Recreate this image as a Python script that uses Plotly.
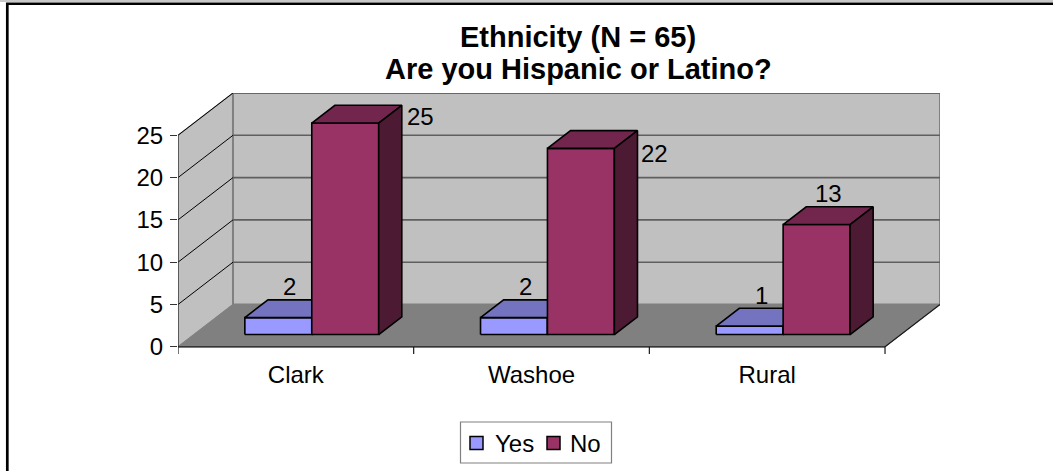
import plotly.graph_objects as go

# ---- data -------------------------------------------------------------
categories = ["Clark", "Washoe", "Rural"]
series_names = ["Yes", "No"]
yes_counts = [2, 2, 1]
no_counts = [25, 22, 13]
y_ticks = [0, 5, 10, 15, 20, 25]
title_lines = ["Ethnicity (N = 65)", "Are you Hispanic or Latino?"]

# ---- geometry / style ---------------------------------------------------
FIG_W, FIG_H = 1053, 471
M_L, M_R, M_T, M_B = 178, 113, 93, 117
DX, DY = 0.2333, 5.0          # depth of the chart box, in axis units
Y_MAX, Y_MIN = 30.0, -0.85
BAR_W = 0.284                 # bar width in category units
FRONT = 0.29                  # bar front plane, fraction of box depth
DEPTH = 0.42                  # bar depth, fraction of box depth
FONT = "Liberation Sans, Arial, sans-serif"

WALL = "#C0C0C0"
FLOOR = "#808080"
COLORS = {
    "Yes": {"front": "#9999FF", "top": "#7373BF", "side": "#5C5C99"},
    "No": {"front": "#993366", "top": "#73264D", "side": "#4D1A33"},
}

plot_w = FIG_W - M_L - M_R
plot_h = FIG_H - M_T - M_B


def paper(px, py):
    """Pixel position on the page -> paper coordinates."""
    return (px - M_L) / plot_w, (FIG_H - M_B - py) / plot_h


def polys(shapes):
    xs, ys = [], []
    for pts in shapes:
        for x, y in pts + [pts[0]]:
            xs.append(x)
            ys.append(y)
        xs.append(None)
        ys.append(None)
    return xs, ys


def lines(segs):
    xs, ys = [], []
    for (x0, y0), (x1, y1) in segs:
        xs += [x0, x1, None]
        ys += [y0, y1, None]
    return xs, ys


fig = go.Figure()


def add_poly(shapes, fill, line_color, line_width):
    xs, ys = polys(shapes)
    fig.add_trace(go.Scatter(x=xs, y=ys, mode="lines", fill="toself",
                             fillcolor=fill,
                             line=dict(color=line_color, width=line_width),
                             hoverinfo="skip", showlegend=False))


def add_lines(segs, color, width):
    xs, ys = lines(segs)
    fig.add_trace(go.Scatter(x=xs, y=ys, mode="lines",
                             line=dict(color=color, width=width),
                             hoverinfo="skip", showlegend=False))


n = len(categories)
top = y_ticks[-1]

# walls and floor
add_poly([[(0, 0), (0, top), (DX, top + DY), (DX, DY)]], WALL, "#8C8C8C", 1.2)
add_poly([[(DX, DY), (DX, top + DY), (n + DX, top + DY), (n + DX, DY)]],
         WALL, "#808080", 2)
add_poly([[(0, 0), (n, 0), (n + DX, DY), (DX, DY)]], FLOOR, FLOOR, 1)

# gridlines on the back wall and their continuation on the side wall
add_lines([((DX, v + DY), (n + DX, v + DY)) for v in y_ticks[1:]], "#5F5F5F", 1.6)
add_lines([((0, v), (DX, v + DY)) for v in y_ticks[1:]], "#000000", 1)

# axis lines and category ticks
add_lines([((0, 0), (0, top))], "#333333", 1.3)
add_lines([((0, 0), (n, 0)), ((n, 0), (n + DX, DY))], "#1A1A1A", 1.2)
add_lines([((k, 0), (k, Y_MIN)) for k in range(n + 1)], "#1A1A1A", 1.2)

# 3-D bars
fx, fy = FRONT * DX, FRONT * DY
bx, by = DEPTH * DX, DEPTH * DY
series = {"Yes": yes_counts, "No": no_counts}
annotations = []
outside_labels = {("No", 0): (3, -11), ("No", 1): (2, -23)}

for i in range(n):
    c = i + 0.5
    for s_idx, name in enumerate(series_names):
        v = series[name][i]
        x0 = c - BAR_W + s_idx * BAR_W + fx
        x1 = x0 + BAR_W
        col = COLORS[name]
        add_poly([[(x0, fy), (x1, fy), (x1, v + fy), (x0, v + fy)]],
                 col["front"], "#000000", 1.6)
        add_poly([[(x0, v + fy), (x1, v + fy), (x1 + bx, v + fy + by),
                   (x0 + bx, v + fy + by)]], col["top"], "#000000", 1.6)
        add_poly([[(x1, fy), (x1, v + fy), (x1 + bx, v + fy + by),
                   (x1 + bx, fy + by)]], col["side"], "#000000", 1.6)

        if (name, i) in outside_labels:
            xs, ys = outside_labels[(name, i)]
            annotations.append(dict(x=x1 + bx, y=v + fy + by, text=str(v),
                                    xref="x", yref="y", showarrow=False,
                                    xanchor="left", yanchor="middle",
                                    xshift=xs, yshift=ys,
                                    font=dict(family=FONT, size=24, color="black")))
        else:
            annotations.append(dict(x=(x0 + x1) / 2 + bx / 2, y=v + fy + by / 2,
                                    text=str(v), xref="x", yref="y",
                                    showarrow=False, xanchor="center",
                                    yanchor="middle", yshift=22,
                                    font=dict(family=FONT, size=24, color="black")))

# title
for text, py in zip(title_lines, [37.5, 68.5]):
    px_, py_ = paper(578, py)
    annotations.append(dict(x=px_, y=py_, xref="paper", yref="paper",
                            text=f"<b>{text}</b>", showarrow=False,
                            xanchor="center", yanchor="middle",
                            font=dict(family=FONT, size=29, color="black")))

# legend
shapes = []
lx0, ly0 = paper(460.5, 422)
lx1, ly1 = paper(611.5, 463)
shapes.append(dict(type="rect", xref="paper", yref="paper", x0=lx0, y0=ly0,
                   x1=lx1, y1=ly1, line=dict(color="#808080", width=1.2),
                   fillcolor="white", layer="above"))
for name, sx, tx in zip(series_names, [470, 547], [493, 568]):
    a0, b0 = paper(sx, 436.5)
    a1, b1 = paper(sx + 13, 449.5)
    shapes.append(dict(type="rect", xref="paper", yref="paper", x0=a0, y0=b0,
                       x1=a1, y1=b1, fillcolor=COLORS[name]["front"],
                       line=dict(color="black", width=1.5), layer="above"))
    tx_, ty_ = paper(tx, 443)
    annotations.append(dict(x=tx_, y=ty_, xref="paper", yref="paper",
                            text=name, showarrow=False, xanchor="left",
                            yanchor="middle",
                            font=dict(family=FONT, size=24, color="black")))

# chart frame
for (ax0, ay0), (ax1, ay1), color, width in [
        ((0, 1), (FIG_W, 1), "#C8C8C8", 2),
        ((6, 3.8), (FIG_W + 5, 3.8), "#000000", 2.5),
        ((7.3, 3), (7.3, FIG_H + 5), "#000000", 2.7)]:
    p0 = paper(ax0, ay0)
    p1 = paper(ax1, ay1)
    shapes.append(dict(type="line", xref="paper", yref="paper",
                       x0=p0[0], y0=p0[1], x1=p1[0], y1=p1[1],
                       line=dict(color=color, width=width)))

fig.update_layout(
    width=FIG_W, height=FIG_H, autosize=False,
    margin=dict(l=M_L, r=M_R, t=M_T, b=M_B, pad=0),
    paper_bgcolor="white", plot_bgcolor="rgba(0,0,0,0)",
    showlegend=False,
    xaxis=dict(range=[0, n + DX], tickvals=[i + 0.5 for i in range(n)],
               ticktext=categories, ticks="", showgrid=False, zeroline=False,
               showline=False, ticklabelstandoff=4,
               tickfont=dict(family=FONT, size=24, color="black"),
               fixedrange=True),
    yaxis=dict(range=[Y_MIN, Y_MAX], tickvals=y_ticks, ticks="outside",
               ticklen=7, tickwidth=1.2, tickcolor="#333333",
               showgrid=False, zeroline=False, showline=False,
               ticklabelstandoff=2,
               tickfont=dict(family=FONT, size=24, color="black"),
               fixedrange=True),
    annotations=annotations,
    shapes=shapes,
)

fig.write_html("out.html")
